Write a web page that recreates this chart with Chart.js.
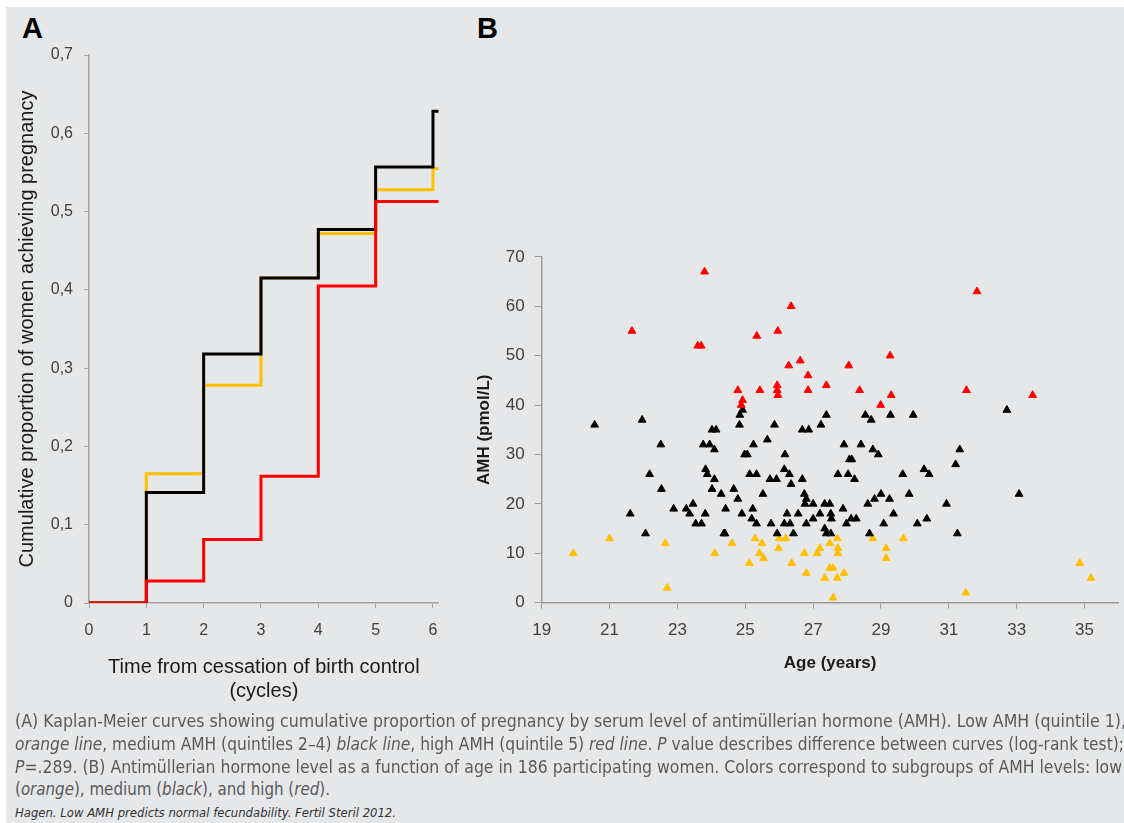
<!DOCTYPE html>
<html>
<head>
<meta charset="utf-8">
<script src="https://cdn.jsdelivr.net/npm/chart.js@4.4.1/dist/chart.umd.min.js"></script>
<style>
    html, body { margin: 0; padding: 0; width: 1124px; height: 823px; overflow: hidden; background: #fff; }
    #panel { position: absolute; left: 6px; top: 7px; right: 0; bottom: 0; background: #e6e7e9; }
    .tag { position: absolute; font: bold 29px "Liberation Sans", Arial, sans-serif; line-height: 29px; color: #000; }
    canvas { position: absolute; }
    .cap { position: absolute; left: 15px; white-space: nowrap; font-family: "Liberation Sans Narrow", "DejaVu Sans Condensed", "Liberation Sans", sans-serif; color: #5a5a5a; }
    .cap span { display: inline-block; transform-origin: 0 0; }
</style>
</head>
<body>
<div id="panel"></div>
<div class="tag" style="left:22px; top:14px;">A</div>
<div class="tag" style="left:477px; top:14px;">B</div>
<canvas id="kmChart" width="470" height="720" style="left:0; top:0;"></canvas>
<canvas id="amhChart" width="654" height="490" style="left:470px; top:200px;"></canvas>

<div class="cap" style="top:710px; font-size:17px; line-height:22px;"><span data-w="1111">(A) Kaplan-Meier curves showing cumulative proportion of pregnancy by serum level of antimüllerian hormone (AMH). Low AMH (quintile 1),</span></div>
<div class="cap" style="top:733px; font-size:17px; line-height:22px;"><span data-w="1109"><i>orange line</i>, medium AMH (quintiles 2–4) <i>black line</i>, high AMH (quintile 5) <i>red line</i>. <i>P</i> value describes difference between curves (log-rank test);</span></div>
<div class="cap" style="top:756px; font-size:17px; line-height:22px;"><span data-w="1107"><i>P</i>=.289. (B) Antimüllerian hormone level as a function of age in 186 participating women. Colors correspond to subgroups of AMH levels: low</span></div>
<div class="cap" style="top:778px; font-size:17px; line-height:22px;"><span data-w="315">(<i>orange</i>), medium (<i>black</i>), and high (<i>red</i>).</span></div>
<div class="cap" style="top:805px; font-size:12px; line-height:16px; color:#333;"><span data-w="381"><i>Hagen. Low AMH predicts normal fecundability. Fertil Steril 2012.</i></span></div>

<script>
// Panel A: Kaplan-Meier (x = cycles, y = cumulative proportion)
const cycles = [0, 1, 2, 3, 4, 5, 6, 6.1];
const lowAmhKM = [0, 0.165, 0.278, 0.415, 0.472, 0.528, 0.555, 0.555];
const midAmhKM = [0, 0.141, 0.318, 0.415, 0.477, 0.557, 0.628, 0.628];
const highAmhKM = [0, 0.028, 0.081, 0.162, 0.405, 0.513, 0.513, 0.513];
const cycleTicks = [0, 1, 2, 3, 4, 5, 6];
const propTicks = [0, 0.1, 0.2, 0.3, 0.4, 0.5, 0.6, 0.7];
const propLabels = ['0', '0,1', '0,2', '0,3', '0,4', '0,5', '0,6', '0,7'];

// Panel B: AMH vs age, [age, amh]
const lowGroup = [[19.93,10],[21.0,13],[22.64,12],[22.7,3],[24.1,10],[24.61,12],[25.29,13],[25.49,12],[25.42,10],[25.54,9],[25.12,8],[25.98,11],[26.0,13],[26.19,13],[26.37,8],[26.74,10],[26.8,6],[27.12,10],[27.2,11],[27.34,5],[27.49,7],[27.59,7],[27.71,5],[27.59,1],[27.71,13],[27.73,11],[27.73,10],[27.91,6],[27.49,12],[28.76,13],[29.15,11],[29.15,9],[29.66,13],[31.5,2],[34.86,8],[35.19,5]];
const midGroup = [[20.56,36],[21.96,37],[22.51,32],[22.18,26],[22.53,23],[21.61,18],[22.06,14],[22.89,19],[23.26,19],[23.36,18],[23.46,20],[23.54,16],[23.71,16],[23.82,18],[23.76,32],[23.95,32],[23.83,27],[23.88,26],[24.02,35],[24.14,35],[24.09,31],[24.09,25],[24.02,23],[24.29,22],[24.42,19],[24.37,14],[24.4,14],[24.66,23],[24.78,21],[24.9,18],[24.83,36],[24.84,38],[24.92,39],[24.98,30],[25.06,30],[25.24,32],[25.13,26],[25.33,26],[25.22,19],[25.19,17],[25.33,16],[25.52,22],[25.65,33],[25.86,36],[25.73,25],[25.92,25],[25.76,16],[25.94,14],[26.17,30],[26.15,27],[26.3,26],[26.35,24],[26.23,18],[26.15,16],[26.32,16],[26.42,14],[26.56,18],
    [27.39,38],[27.23,36],[26.68,35],[26.87,35],[28.54,38],[28.71,37],[29.28,38],[29.95,38],[32.71,39],[27.91,32],[28.41,32],[28.76,31],[28.92,30],[28.07,29],[28.14,29],[31.32,31],[31.2,28],[26.68,25],[27.73,26],[28.03,26],[28.22,25],[29.64,26],[30.27,27],[30.42,26],[33.07,22],
    [26.74,22],[29.0,22],[29.83,22],[26.8,21],[28.81,21],[29.25,21],[26.76,20],[27.0,20],[27.34,20],[27.49,20],[28.61,20],[30.93,20],[27.88,19],[27.2,18],[27.52,18],[29.37,18],[27.0,17],[27.54,17],[28.12,17],[28.27,17],[30.35,17],[26.8,16],[27.98,16],[29.08,16],[30.07,16],[27.34,15],[27.39,14],[27.52,14],[28.66,14],[31.25,14]];
const highGroup = [[21.66,55],[23.8,67],[23.6,52],[23.7,52],[25.34,54],[25.96,55],[26.35,60],[26.28,48],[26.62,49],[26.85,46],[27.39,44],[26.85,43],[28.05,48],[29.27,50],[28.37,43],[29.3,42],[28.99,40],[31.83,63],[31.52,43],[33.47,42],[24.78,43],[25.43,43],[25.94,44],[25.94,43],[25.96,42],[24.92,41],[24.88,40]];
const ageTicks = [19, 21, 23, 25, 27, 29, 31, 33, 35];
const amhTicks = [0, 10, 20, 30, 40, 50, 60, 70];

const ORANGE = '#ffc000';
const axisGrey = '#a3a3a3';
const tickFont = { family: "'Liberation Sans', Arial, sans-serif", size: 16 };

function toXY(xs, ys) {
    return xs.map((x, i) => ({ x: x, y: ys[i] }));
}
function toPts(list) {
    return list.map(p => ({ x: p[0], y: p[1] }));
}

Chart.defaults.animation = false;

new Chart(document.getElementById('kmChart'), {
    type: 'line',
    data: {
        datasets: [
            { data: toXY(cycles, highAmhKM), borderColor: '#ff0000', order: 1 },
            { data: toXY(cycles, midAmhKM), borderColor: '#000000', order: 2 },
            { data: toXY(cycles, lowAmhKM), borderColor: ORANGE, order: 3 }
        ].map(d => Object.assign(d, { stepped: 'before', borderWidth: 3, pointRadius: 0, fill: false }))
    },
    options: {
        responsive: false,
        layout: { padding: { left: 0, top: 55, right: 31.3, bottom: 0 } },
        plugins: { legend: { display: false }, tooltip: { enabled: false } },
        scales: {
            x: {
                type: 'linear', min: 0, max: 6.1,
                afterBuildTicks: s => { s.ticks = cycleTicks.map(v => ({ value: v })); },
                afterFit: s => { s.height = 117; },
                grid: { drawOnChartArea: false, tickLength: 5, color: axisGrey },
                border: { color: axisGrey, width: 1.5 },
                ticks: { autoSkip: false, maxRotation: 0, padding: 13, color: '#404040', font: tickFont },
                title: {
                    display: true,
                    text: ['Time from cessation of birth control', '(cycles)'],
                    color: '#1a1a1a',
                    font: { family: "'Liberation Sans', Arial, sans-serif", size: 20 },
                    padding: { top: 0, bottom: 17 }
                }
            },
            y: {
                min: 0, max: 0.7,
                afterBuildTicks: s => { s.ticks = propTicks.map(v => ({ value: v })); },
                afterFit: s => { s.width = 89; },
                grid: { drawOnChartArea: false, tickLength: 5, color: axisGrey },
                border: { color: axisGrey, width: 1.5 },
                ticks: { padding: 11, color: '#404040', font: tickFont, callback: (v, i) => propLabels[i] },
                title: {
                    display: true,
                    text: 'Cumulative proportion of women achieving pregnancy',
                    color: '#1a1a1a',
                    font: { family: "'Liberation Sans', Arial, sans-serif", size: 20 },
                    padding: { top: 15, bottom: 0 }
                }
            }
        }
    }
});

new Chart(document.getElementById('amhChart'), {
    type: 'scatter',
    data: {
        datasets: [
            { data: toPts(highGroup), backgroundColor: '#ff0000', borderColor: '#ff0000', order: 1 },
            { data: toPts(midGroup), backgroundColor: '#000000', borderColor: '#000000', order: 2 },
            { data: toPts(lowGroup), backgroundColor: ORANGE, borderColor: ORANGE, order: 3 }
        ].map(d => Object.assign(d, { pointStyle: 'triangle', pointRadius: 4.5, borderWidth: 1 }))
    },
    options: {
        responsive: false,
        layout: { padding: { left: 0, top: 56.9, right: 1.6, bottom: 0 } },
        plugins: { legend: { display: false }, tooltip: { enabled: false } },
        scales: {
            x: {
                type: 'linear', min: 19, max: 36,
                afterBuildTicks: s => { s.ticks = ageTicks.map(v => ({ value: v })); },
                afterFit: s => { s.height = 87.3; },
                grid: { drawOnChartArea: false, tickLength: 6, color: '#9a9a9a' },
                border: { color: '#9a9a9a', width: 1.5 },
                ticks: { autoSkip: false, maxRotation: 0, padding: 11, color: '#404040', font: { family: "'Liberation Sans', Arial, sans-serif", size: 17 } },
                title: {
                    display: true, text: 'Age (years)', color: '#1a1a1a',
                    font: { family: "'Liberation Sans', Arial, sans-serif", size: 17, weight: 'bold' },
                    padding: { top: 0, bottom: 16.5 }
                }
            },
            y: {
                min: 0, max: 70,
                afterBuildTicks: s => { s.ticks = amhTicks.map(v => ({ value: v })); },
                afterFit: s => { s.width = 71.7; },
                grid: { drawOnChartArea: false, tickLength: 7, color: '#9a9a9a' },
                border: { color: '#9a9a9a', width: 1.5 },
                ticks: { padding: 10, color: '#404040', font: { family: "'Liberation Sans', Arial, sans-serif", size: 17 } },
                title: {
                    display: true, text: 'AMH (pmol/L)', color: '#1a1a1a',
                    font: { family: "'Liberation Sans', Arial, sans-serif", size: 17, weight: 'bold' },
                    padding: { top: 4, bottom: 0 }
                }
            }
        }
    }
});

// squeeze caption lines to the widths of the original
document.querySelectorAll('.cap span').forEach(el => {
    const target = +el.dataset.w;
    const actual = el.getBoundingClientRect().width;
    if (actual > 0) el.style.transform = 'scaleX(' + (target / actual) + ')';
});
</script>
</body>
</html>
